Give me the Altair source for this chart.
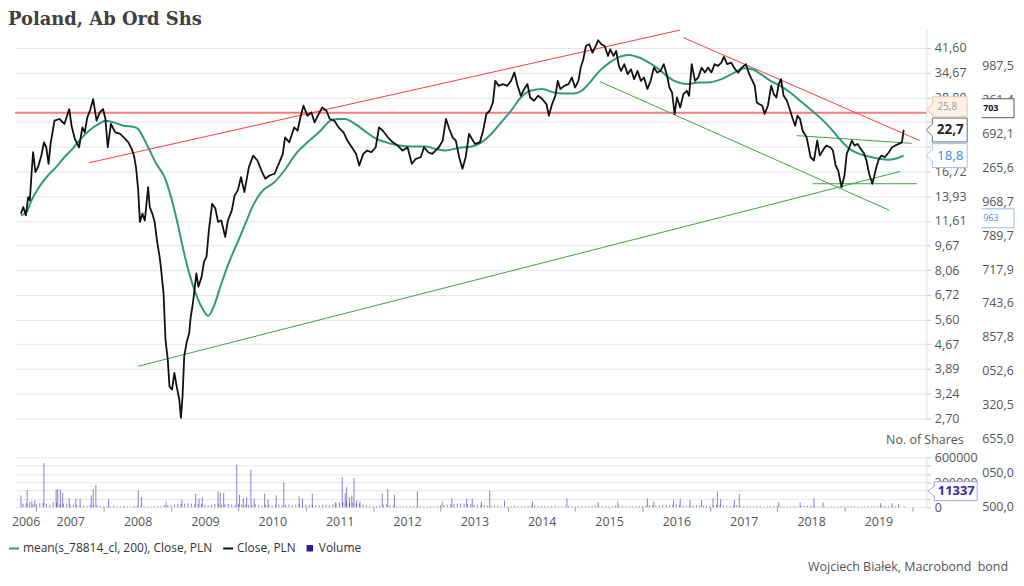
import altair as alt
import pandas as pd

FONT = "Open Sans"

# ---------------- data ----------------
close_year = [2006.771, 2006.805, 2006.844, 2006.878, 2006.903, 2006.928, 2006.951, 2006.986, 2007.024, 2007.074,
              2007.112, 2007.147, 2007.181, 2007.210, 2007.269, 2007.342, 2007.415, 2007.488, 2007.522, 2007.571,
              2007.634, 2007.683, 2007.718, 2007.756, 2007.795, 2007.843, 2007.893, 2007.941, 2007.990, 2008.025,
              2008.059, 2008.107, 2008.171, 2008.244, 2008.318, 2008.366, 2008.414, 2008.449, 2008.479, 2008.512,
              2008.537, 2008.575, 2008.610, 2008.625, 2008.659, 2008.683, 2008.721, 2008.756, 2008.790, 2008.830,
              2008.853, 2008.888, 2008.917, 2008.951, 2008.976, 2009.014, 2009.049, 2009.083, 2009.122, 2009.146,
              2009.170, 2009.195, 2009.229, 2009.269, 2009.292, 2009.317, 2009.342, 2009.375, 2009.405, 2009.453,
              2009.488, 2009.526, 2009.561, 2009.610, 2009.658, 2009.697, 2009.746, 2009.804, 2009.844, 2009.902,
              2009.942, 2009.990, 2010.038, 2010.088, 2010.155, 2010.219, 2010.282, 2010.351, 2010.399, 2010.462,
              2010.536, 2010.609, 2010.659, 2010.692, 2010.755, 2010.828, 2010.878, 2010.926, 2010.966, 2011.024,
              2011.083, 2011.131, 2011.180, 2011.244, 2011.307, 2011.355, 2011.424, 2011.487, 2011.560, 2011.618,
              2011.683, 2011.746, 2011.794, 2011.853, 2011.911, 2011.975, 2012.038, 2012.087, 2012.145, 2012.218,
              2012.292, 2012.365, 2012.438, 2012.511, 2012.575, 2012.634, 2012.707, 2012.755, 2012.818, 2012.877,
              2012.926, 2012.975, 2013.033, 2013.081, 2013.131, 2013.179, 2013.228, 2013.277, 2013.326, 2013.374,
              2013.424, 2013.511, 2013.585, 2013.633, 2013.681, 2013.731, 2013.779, 2013.813, 2013.863, 2013.926,
              2013.989, 2014.047, 2014.097, 2014.145, 2014.193, 2014.243, 2014.291, 2014.331, 2014.389, 2014.448,
              2014.511, 2014.574, 2014.609, 2014.657, 2014.706, 2014.741, 2014.779, 2014.837, 2014.901, 2014.950,
              2014.998, 2015.048, 2015.082, 2015.121, 2015.159, 2015.209, 2015.257, 2015.305, 2015.341, 2015.389,
              2015.437, 2015.487, 2015.520, 2015.569, 2015.608, 2015.648, 2015.681, 2015.730, 2015.779, 2015.828,
              2015.876, 2015.926, 2015.974, 2016.022, 2016.072, 2016.120, 2016.169, 2016.218, 2016.267, 2016.315,
              2016.365, 2016.399, 2016.438, 2016.476, 2016.511, 2016.559, 2016.608, 2016.657, 2016.691, 2016.730,
              2016.779, 2016.827, 2016.877, 2016.925, 2016.974, 2017.023, 2017.071, 2017.120, 2017.170, 2017.207,
              2017.257, 2017.316, 2017.374, 2017.423, 2017.471, 2017.535, 2017.584, 2017.632, 2017.667, 2017.696,
              2017.730, 2017.778, 2017.813, 2017.861, 2017.910, 2017.949, 2017.988, 2018.022, 2018.056, 2018.095,
              2018.144, 2018.193, 2018.231, 2018.266, 2018.300, 2018.339, 2018.377, 2018.436, 2018.461, 2018.495,
              2018.545, 2018.593, 2018.632, 2018.691, 2018.729, 2018.788, 2018.827, 2018.867, 2018.905, 2018.934,
              2018.954, 2018.998, 2019.032, 2019.071, 2019.109, 2019.149, 2019.193, 2019.241, 2019.291, 2019.325,
              2019.364, 2019.412, 2019.437, 2019.471, 2019.510, 2019.548, 2019.598, 2019.657, 2019.705, 2019.753,
              2019.802, 2019.851, 2019.876, 2019.885]
close_pln = [12.25, 12.86, 12.10, 13.84, 13.51, 16.44, 19.27, 16.63, 17.26, 18.80,
             20.73, 19.99, 17.69, 20.49, 24.32, 24.63, 23.74, 26.50, 23.44, 21.26,
             19.99, 23.15, 22.32, 24.92, 26.17, 28.53, 24.32, 25.85, 26.50, 24.63,
             19.99, 23.74, 22.32, 22.05, 21.26, 20.73, 19.75, 18.80, 17.26, 14.54,
             11.52, 12.25, 11.64, 12.55, 14.89, 12.86, 12.25, 11.52, 10.06, 8.90,
             8.07, 6.80, 4.83, 4.17, 3.42, 3.34, 3.78, 3.42, 3.10, 2.71,
             3.18, 4.27, 4.71, 5.07, 5.73, 6.17, 6.80, 7.88, 7.14, 7.68,
             8.58, 8.90, 10.83, 13.18, 12.71, 11.52, 11.64, 10.31, 11.64, 12.55,
             13.97, 14.54, 16.03, 14.36, 17.26, 18.80, 18.13, 16.63, 15.85, 16.23,
             16.44, 17.90, 19.04, 21.51, 20.73, 23.15, 22.59, 25.23, 27.16, 25.23,
             25.85, 24.02, 25.23, 26.82, 26.17, 24.63, 24.32, 23.15, 22.32, 21.00,
             19.99, 19.04, 17.47, 19.04, 19.51, 19.27, 19.99, 23.15, 22.59, 21.51,
             20.73, 20.24, 19.51, 19.99, 17.69, 18.36, 18.57, 19.99, 19.27, 19.04,
             19.51, 19.99, 20.99, 24.63, 22.88, 21.51, 21.00, 18.57, 17.06, 18.57,
             22.05, 20.49, 20.73, 22.59, 25.55, 26.17, 27.83, 32.64, 31.46, 31.86,
             31.46, 32.64, 34.70, 31.46, 29.23, 30.71, 31.86, 28.87, 28.18, 29.23,
             28.53, 27.50, 25.23, 27.50, 29.23, 32.64, 30.71, 31.46, 31.86, 33.44,
             31.07, 32.64, 35.99, 38.29, 42.22, 42.75, 40.19, 42.22, 44.03, 42.75,
             42.22, 39.22, 41.20, 39.22, 40.69, 36.45, 35.13, 36.91, 34.29, 35.57,
             33.05, 35.13, 32.64, 33.44, 30.71, 32.64, 35.99, 34.70, 35.13, 36.91,
             33.86, 31.07, 29.95, 25.55, 28.87, 26.82, 29.60, 30.33, 29.23, 36.91,
             32.64, 33.44, 35.99, 34.70, 35.99, 34.70, 36.91, 36.45, 37.34, 38.94,
             36.91, 37.34, 35.57, 34.70, 35.99, 36.91, 34.29, 32.64, 31.46, 27.83,
             27.50, 27.16, 25.55, 27.16, 31.46, 29.60, 28.87, 31.86, 33.05, 29.23,
             28.18, 26.17, 24.63, 23.44, 25.23, 24.63, 22.59, 21.51, 20.24, 18.57,
             18.13, 21.00, 18.80, 19.75, 20.24, 19.99, 19.51, 17.47, 16.84, 15.65,
             14.89, 16.23, 19.04, 19.99, 21.00, 20.24, 20.49, 19.75, 19.04, 18.13,
             16.44, 15.27, 16.03, 17.26, 18.36, 18.80, 18.57, 19.27, 19.99, 20.24,
             20.49, 20.73, 22.59, 22.70]

ma_year = [2006.771, 2006.855, 2006.928, 2007.024, 2007.171, 2007.293, 2007.415, 2007.536, 2007.659, 2007.781,
           2007.927, 2008.025, 2008.146, 2008.293, 2008.439, 2008.512, 2008.585, 2008.683, 2008.780, 2008.903,
           2008.999, 2009.097, 2009.195, 2009.269, 2009.365, 2009.463, 2009.551, 2009.634, 2009.731, 2009.854,
           2010.000, 2010.122, 2010.195, 2010.341, 2010.536, 2010.682, 2010.853, 2011.024, 2011.219, 2011.365,
           2011.463, 2011.585, 2011.731, 2011.902, 2012.048, 2012.195, 2012.389, 2012.584, 2012.780, 2012.926,
           2013.073, 2013.267, 2013.462, 2013.608, 2013.754, 2013.901, 2014.047, 2014.193, 2014.339, 2014.511,
           2014.682, 2014.828, 2014.975, 2015.096, 2015.217, 2015.364, 2015.510, 2015.656, 2015.802, 2015.949,
           2016.095, 2016.242, 2016.388, 2016.534, 2016.680, 2016.827, 2016.973, 2017.170, 2017.364, 2017.510,
           2017.632, 2017.754, 2017.901, 2018.047, 2018.193, 2018.339, 2018.486, 2018.632, 2018.779, 2018.925,
           2019.071, 2019.217, 2019.364, 2019.510, 2019.657, 2019.753, 2019.876]
ma_pln = [12.10, 12.39, 13.51, 14.72, 16.23, 17.26, 18.57, 19.75, 21.26, 22.59,
          23.74, 24.32, 24.02, 23.44, 23.27, 22.88, 21.51, 19.51, 17.69, 16.03,
          13.84, 11.38, 9.12, 7.88, 6.80, 6.09, 5.76, 6.17, 7.14, 8.48,
          10.06, 11.64, 12.71, 14.36, 15.46, 16.84, 19.04, 20.73, 22.59, 24.32,
          24.63, 24.63, 23.74, 22.32, 21.26, 20.73, 20.24, 20.09, 20.09, 19.75,
          19.51, 19.90, 20.09, 20.73, 22.05, 24.02, 26.17, 28.87, 30.33, 30.71,
          29.95, 29.73, 29.73, 30.33, 32.24, 35.13, 37.34, 38.94, 39.52, 38.77,
          37.34, 35.57, 33.44, 32.24, 31.86, 32.24, 32.24, 33.05, 34.70, 35.83,
          35.57, 34.29, 32.64, 31.46, 29.95, 28.18, 26.50, 24.92, 23.15, 21.26,
          19.75, 19.04, 18.66, 18.36, 18.22, 18.36, 18.80]

vol_spike_year = [2006.771, 2006.863, 2006.932, 2006.976, 2007.112, 2007.293, 2007.317, 2007.356, 2007.390, 2007.488,
                  2007.586, 2007.649, 2007.814, 2007.843, 2007.883, 2008.073, 2008.512, 2008.560, 2008.926, 2009.160,
                  2009.365, 2009.415, 2009.463, 2009.697, 2009.731, 2009.781, 2009.975, 2010.015, 2010.073, 2010.122,
                  2010.185, 2010.234, 2010.389, 2010.439, 2010.560, 2010.673, 2010.901, 2010.951, 2011.097, 2011.438,
                  2011.541, 2011.585, 2011.607, 2011.648, 2011.683, 2011.716, 2011.756, 2011.804, 2012.136, 2012.218,
                  2012.316, 2012.657, 2013.023, 2013.169, 2013.389, 2013.472, 2013.608, 2013.731, 2013.950, 2014.365,
                  2014.877, 2015.341, 2015.633, 2016.072, 2016.169, 2016.461, 2016.559, 2016.705, 2016.877, 2017.046,
                  2017.111, 2017.159, 2017.364, 2017.437, 2018.022, 2018.340, 2018.545, 2018.681, 2019.534, 2019.705,
                  2019.803, 2019.885]
vol_spike_shares = [140000, 208000, 70000, 85000, 532000, 212000, 220000, 212000, 172000, 108000,
                    100000, 100000, 140000, 220000, 268000, 100000, 204000, 120000, 72000, 92000,
                    160000, 100000, 120000, 188000, 180000, 172000, 512000, 148000, 108000, 120000,
                    452000, 100000, 160000, 92000, 140000, 300000, 132000, 108000, 160000, 60000,
                    360000, 168000, 240000, 120000, 140000, 348000, 80000, 68000, 160000, 220000,
                    148000, 188000, 68000, 108000, 100000, 100000, 68000, 200000, 68000, 68000,
                    108000, 60000, 68000, 100000, 68000, 92000, 96000, 88000, 88000, 108000,
                    188000, 96000, 88000, 156000, 60000, 56000, 108000, 56000, 48000, 48000,
                    36000, 11337]

vol_base_year = [2006.8, 2006.9, 2007.0, 2007.1, 2007.2, 2007.3, 2007.4, 2007.5, 2007.6, 2007.7, 2007.8, 2007.9,
                 2008.0, 2008.1, 2008.2, 2008.3, 2008.4, 2008.5, 2008.6, 2008.7, 2008.8, 2008.9,
                 2009.0, 2009.1, 2009.2, 2009.3, 2009.4, 2009.5, 2009.6, 2009.7, 2009.8, 2009.9,
                 2010.0, 2010.1, 2010.2, 2010.3, 2010.4, 2010.5, 2010.6, 2010.7, 2010.8, 2010.9,
                 2011.0, 2011.1, 2011.2, 2011.3, 2011.4, 2011.5, 2011.6, 2011.7, 2011.8, 2011.9,
                 2012.0, 2012.1, 2012.2, 2012.3, 2012.4, 2012.5, 2012.6, 2012.7, 2012.8, 2012.9,
                 2013.0, 2013.1, 2013.2, 2013.3, 2013.4, 2013.5, 2013.6, 2013.7, 2013.8, 2013.9,
                 2014.0, 2014.1, 2014.2, 2014.3, 2014.4, 2014.5, 2014.6, 2014.7, 2014.8, 2014.9,
                 2015.0, 2015.1, 2015.2, 2015.3, 2015.4, 2015.5, 2015.6, 2015.7, 2015.8, 2015.9,
                 2016.0, 2016.1, 2016.2, 2016.3, 2016.4, 2016.5, 2016.6, 2016.7, 2016.8, 2016.9,
                 2017.0, 2017.1, 2017.2, 2017.3, 2017.4, 2017.5, 2017.6, 2017.7, 2017.8, 2017.9,
                 2018.0, 2018.1, 2018.2, 2018.3, 2018.4, 2018.5, 2018.6, 2018.7, 2018.8, 2018.9,
                 2019.0, 2019.1, 2019.2, 2019.3, 2019.4, 2019.5, 2019.6, 2019.7, 2019.8]
vol_base_shares = [45000, 60000, 38000, 52000, 30000, 55000, 42000, 35000, 25000, 18000, 30000, 22000,
                   15000, 12000, 10000, 14000, 9000, 20000, 12000, 8000, 10000, 25000,
                   18000, 35000, 40000, 45000, 38000, 30000, 28000, 42000, 35000, 30000,
                   40000, 28000, 22000, 30000, 25000, 20000, 35000, 28000, 24000, 38000,
                   30000, 25000, 20000, 28000, 35000, 55000, 70000, 60000, 40000, 22000,
                   15000, 20000, 35000, 18000, 10000, 12000, 15000, 10000, 8000, 12000,
                   20000, 30000, 40000, 45000, 38000, 30000, 25000, 20000, 18000, 15000,
                   12000, 18000, 10000, 14000, 20000, 15000, 12000, 16000, 10000, 14000,
                   12000, 10000, 15000, 18000, 12000, 10000, 20000, 14000, 10000, 12000,
                   15000, 25000, 18000, 30000, 22000, 35000, 20000, 15000, 25000, 20000,
                   18000, 30000, 22000, 15000, 25000, 12000, 10000, 14000, 8000, 12000,
                   15000, 10000, 8000, 12000, 14000, 18000, 10000, 12000, 8000, 10000,
                   12000, 14000, 10000, 8000, 12000, 10000, 15000, 12000, 10000]
vol_mid_year = [2006.85, 2006.95, 2007.05, 2007.15, 2007.25, 2007.35, 2007.45, 2007.55, 2007.65, 2007.75, 2007.85, 2007.95,
                2008.05, 2008.15, 2008.25, 2008.35, 2008.45, 2008.55, 2008.65, 2008.75, 2008.85, 2008.95,
                2009.05, 2009.15, 2009.25, 2009.35, 2009.45, 2009.55, 2009.65, 2009.75, 2009.85, 2009.95,
                2010.05, 2010.15, 2010.25, 2010.35, 2010.45, 2010.55, 2010.65, 2010.75, 2010.85, 2010.95,
                2011.05, 2011.15, 2011.25, 2011.35, 2011.45, 2011.55, 2011.65, 2011.75, 2011.85, 2011.95,
                2012.05, 2012.15, 2012.25, 2012.35, 2012.45, 2012.55, 2012.65, 2012.75, 2012.85, 2012.95,
                2013.05, 2013.15, 2013.25, 2013.35, 2013.45, 2013.55, 2013.65, 2013.75, 2013.85, 2013.95,
                2014.05, 2014.15, 2014.25, 2014.35, 2014.45, 2014.55, 2014.65, 2014.75, 2014.85, 2014.95,
                2015.05, 2015.15, 2015.25, 2015.35, 2015.45, 2015.55, 2015.65, 2015.75, 2015.85, 2015.95,
                2016.05, 2016.15, 2016.25, 2016.35, 2016.45, 2016.55, 2016.65, 2016.75, 2016.85, 2016.95,
                2017.05, 2017.15, 2017.25, 2017.35, 2017.45, 2017.55, 2017.65, 2017.75, 2017.85, 2017.95,
                2018.05, 2018.15, 2018.25, 2018.35, 2018.45, 2018.55, 2018.65, 2018.75, 2018.85, 2018.95,
                2019.05, 2019.15, 2019.25, 2019.35, 2019.45, 2019.55, 2019.65, 2019.75]
vol_mid_shares = [50000, 35000, 48000, 40000, 58000, 36000, 44000, 28000, 20000, 15000, 26000, 18000,
                  12000, 16000, 8000, 11000, 14000, 18000, 9000, 12000, 15000, 22000,
                  30000, 38000, 48000, 35000, 40000, 26000, 38000, 30000, 40000, 25000,
                  32000, 26000, 35000, 20000, 28000, 30000, 26000, 32000, 28000, 24000,
                  26000, 22000, 30000, 25000, 45000, 62000, 58000, 50000, 30000, 18000,
                  14000, 28000, 22000, 12000, 9000, 14000, 12000, 9000, 10000, 15000,
                  25000, 35000, 42000, 40000, 35000, 28000, 22000, 18000, 16000, 12000,
                  15000, 12000, 11000, 16000, 12000, 14000, 10000, 12000, 11000, 13000,
                  11000, 12000, 14000, 15000, 11000, 14000, 16000, 12000, 9000, 14000,
                  20000, 22000, 24000, 26000, 28000, 30000, 18000, 20000, 22000, 16000,
                  24000, 26000, 18000, 20000, 18000, 11000, 12000, 10000, 9000, 14000,
                  12000, 9000, 10000, 13000, 16000, 14000, 11000, 9000, 9000, 11000,
                  13000, 12000, 9000, 10000, 11000, 13000, 14000, 11000]

# trend lines drawn on the chart (start / end)
red_year1 = [2007.781, 2016.603]
red_pln1 = [17.83, 44.94]
red_year2 = [2016.559, 2020.115]
red_pln2 = [47.49, 21.00]
green_year1 = [2008.512, 2015.364, 2018.290, 2018.524]
green_pln1 = [3.97, 32.48, 21.78, 15.27]
green_year2 = [2019.826, 2019.665, 2019.998, 2020.071]
green_pln2 = [16.72, 12.55, 20.58, 15.27]
red_level = [25.8]

price_ticks = [2.70, 3.24, 3.89, 4.67, 5.60, 6.72, 8.06, 9.67, 11.61, 13.93, 16.72, 20.06, 24.07, 28.89, 34.67, 41.60]
volume_ticks = [0, 100000, 200000, 300000, 400000, 500000, 600000]
year_ticks = [2006.84, 2007, 2008, 2009, 2010, 2011, 2012, 2013, 2014, 2015, 2016, 2017, 2018, 2019, 2020]
side_labels = ["987,5", "261,4", "692,1", "265,6", "968,7", "789,7", "717,9",
               "743,6", "857,8", "052,6", "320,5", "655,0", "050,0", "500,0"]
legend_names = ["mean(s_78814_cl, 200), Close, PLN", "Close, PLN", "Volume"]
legend_colors = ["#2f9a7c", "#111111", "#2b1a9c"]
last_labels = ["25,8", "22,7", "18,8"]
last_values = [25.8, 22.7, 18.8]

# ---------------- scales / axes ----------------
W, H = 915, 480
XS = alt.Scale(domain=[2006.756, 2020.14], nice=False, zero=False)
XA = alt.Axis(values=year_ticks,
              labelExpr="datum.value < 2007 ? '2006' : (datum.value > 2019.5 ? '' : format(datum.value, 'd'))",
              labelOffset={"condition": {"test": "datum.value < 2007", "value": 0}, "value": 34},
              tickOpacity={"condition": {"test": "datum.value < 2007", "value": 0}, "value": 1},
              grid=False, domain=False, tickSize=4, tickColor="#999999",
              labelColor="#555555", labelFont=FONT, labelFontSize=12.5, labelPadding=4,
              labelFlush=False, labelOverlap=False, title=None)
PS = alt.Scale(type="log", domain=[2.66, 47.84], range=[393, 0], nice=False, zero=False)
PA = alt.Axis(orient="right", values=price_ticks,
              labelExpr="(datum.value > 19 && datum.value < 25) ? '' : replace(format(datum.value, '.2f'), '.', ',')",
              grid=True, gridColor="#e6e6e6", domainColor="#dddddd", tickColor="#c8c8c8", tickSize=4,
              labelColor="#555555", labelFont=FONT, labelFontSize=12.5, labelPadding=4,
              labelOverlap=False, title=None)
VS = alt.Scale(domain=[0, 600000], range=[480, 430], nice=False, zero=True)
VA = alt.Axis(orient="right", values=volume_ticks,
              labelExpr="datum.value % 300000 == 0 ? format(datum.value, 'd') : ''",
              grid=True, gridColor="#e6e6e6", domainColor="#dddddd", tickColor="#c8c8c8", tickSize=4,
              labelColor="#555555", labelFont=FONT, labelFontSize=12.5, labelPadding=4, labelOverlap=False,
              title="No. of Shares", titleAngle=0, titleAlign="right", titleBaseline="middle",
              titleX=37, titleY=412, titleColor="#555555", titleFont=FONT, titleFontSize=12.5,
              titleFontWeight="normal")


def xq(field="year"):
    return alt.X(f"{field}:Q", scale=XS, axis=XA)


def yp(field="pln"):
    return alt.Y(f"{field}:Q", scale=PS, axis=PA)


close_df = pd.DataFrame({"year": close_year, "pln": close_pln})
ma_df = pd.DataFrame({"year": ma_year, "pln": ma_pln})
red_df = pd.DataFrame({"year": red_year1, "pln": red_pln1, "year2": red_year2, "pln2": red_pln2})
green_df = pd.DataFrame({"year": green_year1, "pln": green_pln1, "year2": green_year2, "pln2": green_pln2})
vol_df = pd.DataFrame({"year": vol_base_year + vol_mid_year + vol_spike_year,
                       "shares": vol_base_shares + vol_mid_shares + vol_spike_shares})
last_df = pd.DataFrame({"pln": last_values, "label": last_labels})

hline = alt.Chart(pd.DataFrame({"pln": red_level})).mark_rule(color="#ff7b7b", strokeWidth=2).encode(y=yp())
red = alt.Chart(red_df).mark_rule(color="#ff3d3d", strokeWidth=1).encode(
    x=xq(), x2="year2:Q", y=yp(), y2="pln2:Q")
green = alt.Chart(green_df).mark_rule(color="#3ea43e", strokeWidth=1).encode(
    x=xq(), x2="year2:Q", y=yp(), y2="pln2:Q")
ma = alt.Chart(ma_df).mark_line(color="#2f9a7c", strokeWidth=2, interpolate="monotone").encode(x=xq(), y=yp())
close = alt.Chart(close_df).mark_line(color="#111111", strokeWidth=1.8, strokeJoin="round").encode(x=xq(), y=yp())

BOX_A = "M0,-0.06 L0.12,-0.16 L0.12,-0.32 L0.82,-0.32 L0.82,0.08 L0.12,0.08 L0.12,0.04 Z"
BOX_B = "M0,0 L0.12,-0.12 L0.12,-0.24 L0.82,-0.24 L0.82,0.24 L0.12,0.24 L0.12,0.12 Z"
BOX_OPEN = "M0,-0.19 L0.65,-0.19 L0.65,0.19 L0,0.19"
BOX_V = "M0,0 L0.12,-0.1 L0.12,-0.19 L0.98,-0.19 L0.98,0.19 L0.12,0.19 L0.12,0.1 Z"


def box(df, path, fill, stroke):
    return alt.Chart(df).mark_point(shape=path, size=10000, filled=True, fill=fill, stroke=stroke,
                                    strokeWidth=1, opacity=1).encode(x=alt.value(W), y=yp())


def lbl(df, **kw):
    return alt.Chart(df).mark_text(font=FONT, align="center", baseline="middle", **kw).encode(
        x=alt.value(W + 24), y=yp(), text="label:N")


b258 = box(last_df.iloc[[0]], BOX_A, "#fdf0e6", "#f1c6a4")
t258 = lbl(last_df.iloc[[0]], fontSize=10, color="#9a9a9a", dy=-6, dx=-3)
b227 = box(last_df.iloc[[1]], BOX_B, "#ffffff", "#6b6b6b")
t227 = lbl(last_df.iloc[[1]], fontSize=13.5, fontWeight="bold", color="#222222")
b188 = box(last_df.iloc[[2]], BOX_B, "#ffffff", "#9cc3f5")
t188 = lbl(last_df.iloc[[2]], fontSize=13.5, color="#3b8beb")

price = alt.layer(hline, red, green, ma, close, b258, t258, b227, t227, b188, t188)

vol = alt.Chart(vol_df).mark_bar(width=1, color="#3b2bb5", opacity=0.6).encode(
    x=xq(), y=alt.Y("shares:Q", scale=VS, axis=VA))

side_df = pd.DataFrame({"idx": list(range(len(side_labels))), "label": side_labels})
side = alt.Chart(side_df).mark_text(align="left", baseline="middle", font=FONT, fontSize=12.5,
                                    color="#555555").encode(
    x=alt.value(971),
    y=alt.Y("idx:Q", scale=alt.Scale(domain=[0, 13], range=[37, 480], nice=False, zero=False), axis=None),
    text="label:N")

one = pd.DataFrame({"label": ["703"]})
b703 = alt.Chart(one).mark_point(shape=BOX_OPEN, size=10000, filled=True, fill="#ffffff", stroke="#555555",
                                 strokeWidth=1, opacity=1).encode(x=alt.value(970.5), y=alt.value(79.5))
t703 = alt.Chart(one).mark_text(align="left", baseline="middle", font=FONT, fontSize=9, fontWeight="bold",
                                color="#111111").encode(x=alt.value(972), y=alt.value(79.5), text="label:N")
one963 = pd.DataFrame({"label": ["963"]})
b963 = alt.Chart(one963).mark_point(shape=BOX_OPEN, size=10000, filled=True, fill="#ffffff", stroke="#8bb8ef",
                                    strokeWidth=1, opacity=1).encode(x=alt.value(970.5), y=alt.value(190))
t963 = alt.Chart(one963).mark_text(align="left", baseline="middle", font=FONT, fontSize=9,
                                   color="#3b8beb").encode(x=alt.value(972), y=alt.value(190), text="label:N")
onev = pd.DataFrame({"label": [str(vol_spike_shares[-1])]})
bvol = alt.Chart(onev).mark_point(shape=BOX_V, size=10000, filled=True, fill="#ffffff", stroke="#a79fe6",
                                  strokeWidth=1, opacity=1).encode(x=alt.value(917), y=alt.value(464))
tvol = alt.Chart(onev).mark_text(align="center", baseline="middle", font=FONT, fontSize=13, fontWeight="bold",
                                 color="#3a2aa6").encode(x=alt.value(945), y=alt.value(464), text="label:N")
footer = alt.Chart(pd.DataFrame({"label": ["Wojciech Białek, Macrobond\u00a0\u00a0bond"]})).mark_text(
    align="right", baseline="middle", font=FONT, fontSize=12.5, color="#555555").encode(
    x=alt.value(997), y=alt.value(540), text="label:N")

LEG = alt.Legend(title=None, orient="none", legendX=-7, legendY=515, direction="horizontal",
                 labelFont=FONT, labelFontSize=12, labelColor="#333333", symbolSize=100,
                 symbolStrokeWidth=2, labelOffset=3, columnPadding=6, labelLimit=400)
SQUARE = "M-0.45,-0.45 L0.45,-0.45 L0.45,0.45 L-0.45,0.45 Z"
leg = alt.Chart(pd.DataFrame({"series": legend_names})).mark_point(
    filled=True, opacity=1, strokeWidth=2).encode(
    fill=alt.Fill("series:N", scale=alt.Scale(domain=legend_names, range=legend_colors), legend=LEG),
    stroke=alt.Stroke("series:N", scale=alt.Scale(domain=legend_names, range=legend_colors), legend=LEG),
    shape=alt.Shape("series:N", scale=alt.Scale(domain=legend_names, range=["stroke", "stroke", SQUARE]),
                    legend=LEG),
).transform_filter("false")

chart = alt.layer(price, vol, side, b703, t703, b963, t963, bvol, tvol, footer, leg).resolve_scale(
    y="independent"
).properties(
    width=W, height=H,
    padding={"left": 0, "right": 0, "top": 2, "bottom": 0},
    title=alt.TitleParams("Poland, Ab Ord Shs", anchor="start", font="DejaVu Serif", fontSize=18,
                          fontWeight="bold", color="#404040", offset=0),
).configure_view(stroke=None)

chart.save("out.html", embed_options={"renderer": "svg", "actions": False})
